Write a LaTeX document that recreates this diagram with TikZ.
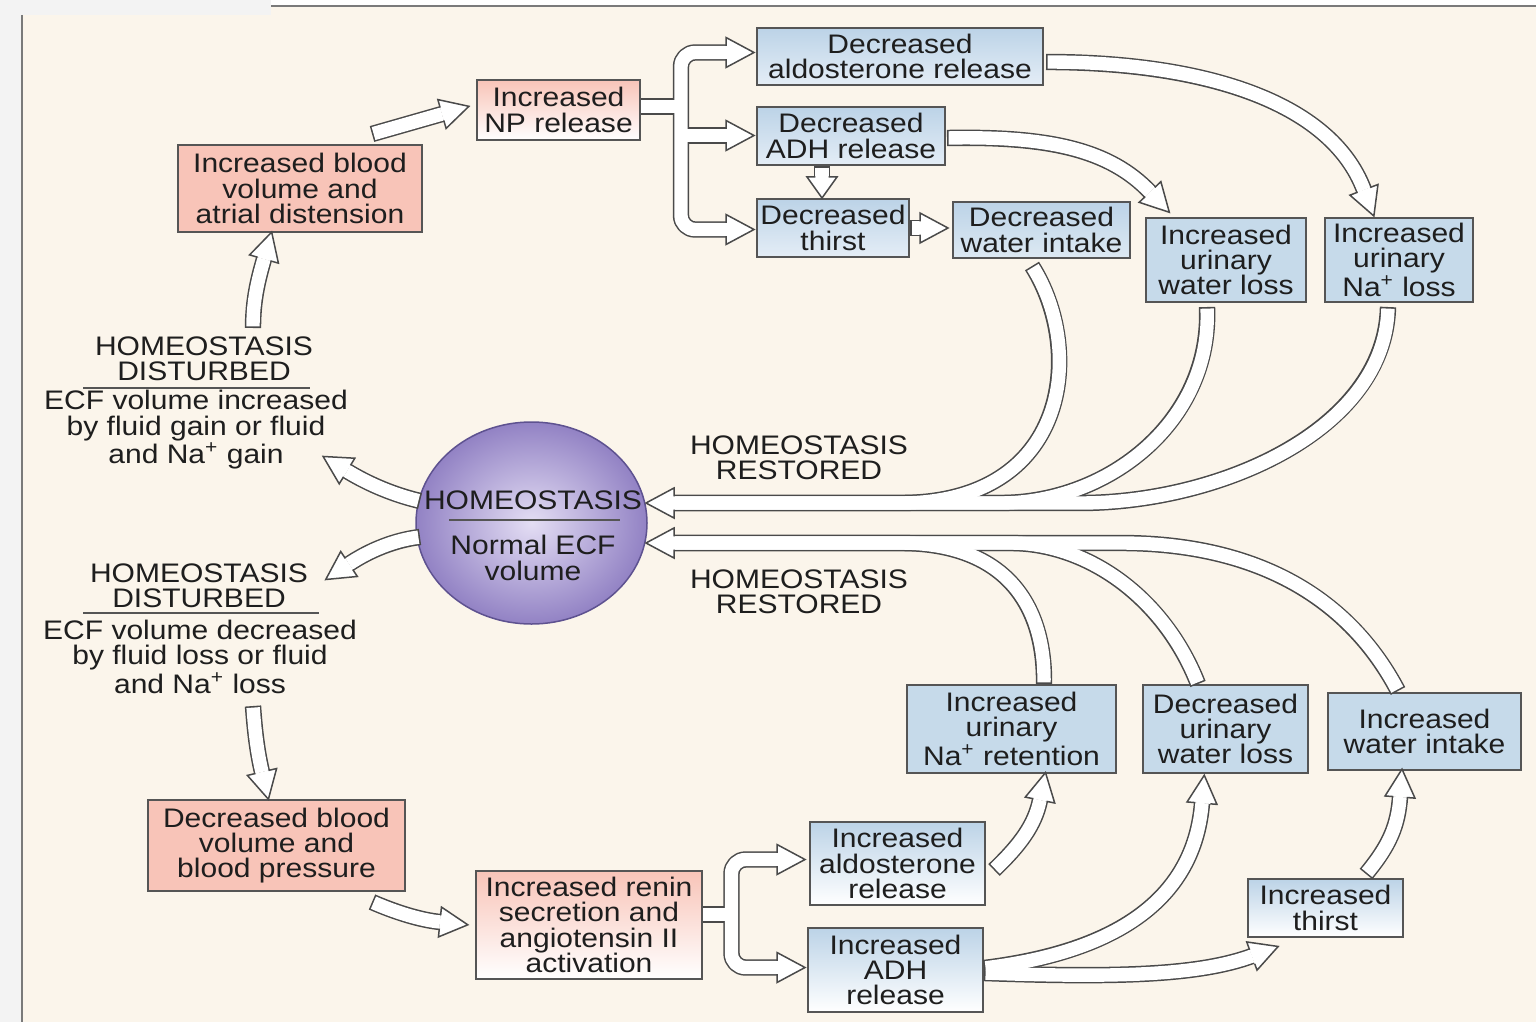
\documentclass[tikz,border=0pt]{standalone}
\usepackage{fontspec}
\setmainfont[FakeStretch=1.12]{Liberation Sans}
\usetikzlibrary{decorations.markings,shapes.geometric}
\definecolor{bgc}{HTML}{FBF5EB}
\definecolor{stripc}{HTML}{F3F3F3}
\definecolor{framec}{HTML}{7A7A7A}
\definecolor{arrc}{HTML}{4A4A4A}
\definecolor{boxc}{HTML}{555555}
\definecolor{pinkc}{HTML}{F8C4B8}
\definecolor{bluec}{HTML}{C6DAEA}
\definecolor{bluetop}{HTML}{BCD3E7}
\definecolor{bluebot}{HTML}{E4EDF6}
\definecolor{txtc}{HTML}{1E1E1E}
\definecolor{purpin}{HTML}{E4DEF4}
\definecolor{purpout}{HTML}{9282C4}
\definecolor{purpedge}{HTML}{5E5290}
\newcommand\fs{\fontsize{13.4}{12.6}\selectfont}
\newcommand\headshape[1]{%
  \fill[white] (0,-15) -- (#1,0) -- (0,15) -- cycle;
  \draw[arrc, line width=0.75pt, line join=miter, line cap=butt] (0,6.7) -- (0,15) -- (#1,0) -- (0,-15) -- (0,-6.7);}
\newcommand\fhead[4]{\begin{scope}[shift={(#1,#2)},rotate=#3]\headshape{#4}\end{scope}}
\tikzset{
  fo/.style={draw=arrc, line width=8.2pt, line cap=butt, line join=round},
  fi/.style={draw=white, line width=6.7pt, line cap=butt, line join=round, shorten <=0.8pt},
  fi0/.style={draw=white, line width=6.7pt, line cap=butt, line join=round},
  hd/.style={postaction={decorate, decoration={markings, mark=at position 0.9995 with {\headshape{#1}}}}},
  hd/.default=28,
  fat/.style={fo, postaction={fi}, hd=#1},
  fat/.default=28,
  bx/.style={draw=boxc, line width=0.75pt, inner sep=0pt, align=center, text=txtc, font=\fs},
  sz/.style 2 args={minimum width=#1*0.5pt, minimum height=#2*0.5pt},
  pk/.style={bx, fill=pinkc},
  pkg/.style={bx, top color=pinkc, bottom color=white},
  bl/.style={bx, fill=bluec},
  blg/.style={bx, top color=bluetop, bottom color=#1},
  blg/.default=white,
  lbl/.style={align=center, text=txtc, font=\fs, inner sep=0pt},
  rule/.style={draw=boxc, line width=0.6pt},
}
\begin{document}
\begin{tikzpicture}[x=0.5pt,y=-0.5pt]
\useasboundingbox (0,0) rectangle (1536,1022);
% background
\fill[white] (0,0) rectangle (1536,1022);
\fill[bgc] (22,6) rectangle (1536,1022);
\fill[stripc] (0,0) rectangle (271,15);
\fill[stripc] (0,15) rectangle (21,1022);
\draw[framec, line width=0.8pt] (271,6) -- (1536,6);
\draw[framec, line width=0.8pt] (22,15) -- (22,1022);

% boxes
\node[pk, sz={244}{87}] (incblood) at (300,188.5) {Increased blood\\volume and\\atrial distension};
\node[pkg, sz={163}{60}] (np) at (558.5,110) {Increased\\NP release};
\node[blg=bluebot, sz={286}{57}] (dald) at (900,56.5) {Decreased\\aldosterone release};
\node[blg=bluebot, sz={188}{58}] (dadh) at (851,136) {Decreased\\ADH release};
\node[blg=bluebot, sz={152}{58}] (dthirst) at (833,228) {Decreased\\thirst};
\node[blg=bluec!60!white, sz={177}{56}] (dwater) at (1041.5,230) {Decreased\\water intake};
\node[bl, sz={160}{84}] (iuwl) at (1226,260) {Increased\\urinary\\water loss};
\node[bl, sz={148}{84}] (iuna) at (1399,260) {Increased\\urinary\\Na\textsuperscript{+} loss};
\node[bl, sz={209}{88}] (nar) at (1011.5,729) {Increased\\urinary\\Na\textsuperscript{+} retention};
\node[bl, sz={165}{88}] (duwl) at (1225.5,729) {Decreased\\urinary\\water loss};
\node[bl, sz={193}{77}] (iwi) at (1424.5,731.5) {Increased\\water intake};
\node[pk, sz={257}{91}] (dblood) at (276.5,845.5) {Decreased blood\\volume and\\blood pressure};
\node[pkg, sz={226}{108}] (renin) at (589,925) {Increased renin\\secretion and\\angiotensin II\\activation};
\node[blg, sz={175}{83}] (iald) at (897.5,863.5) {Increased\\aldosterone\\release};
\node[blg, sz={175}{84}] (iadh) at (895.5,970) {Increased\\ADH\\release};
\node[blg, sz={155}{58}] (ithirst) at (1325.5,908) {Increased\\thirst};

% circle
\node[ellipse, draw=purpedge, line width=0.75pt, shading=radial, inner color=purpin, outer color=purpout, minimum width=231*0.5pt, minimum height=202*0.5pt, inner sep=0pt] (home) at (531.5,523) {};
\node[lbl] (homet) at (533,500) {HOMEOSTASIS};
\draw[rule] (449,520) -- (620,520);
\node[lbl] (homen) at (533,558) {Normal ECF\\volume};

% labels
\node[lbl] (dis1) at (204,359) {HOMEOSTASIS\\DISTURBED};
\draw[rule] (83,388) -- (310,388);
\node[lbl] (ecf1) at (196,430) {ECF volume increased\\by fluid gain or fluid\\and Na\textsuperscript{+} gain};
\node[lbl] (dis2) at (199,586) {HOMEOSTASIS\\DISTURBED};
\draw[rule] (83,613) -- (319,613);
\node[lbl] (ecf2) at (200,657) {ECF volume decreased\\by fluid loss or fluid\\and Na\textsuperscript{+} loss};
\node[lbl] (res1) at (799,458) {HOMEOSTASIS\\RESTORED};
\node[lbl] (res2) at (799,592) {HOMEOSTASIS\\RESTORED};

% single arrows
\draw[fat] (372,134) -- (442,114);
\draw[fat] (253,328) .. controls (253,300) and (258,280) .. (264,259);
\draw[fat] (420,501) .. controls (395,495) and (370,485) .. (347,471);
\draw[fat] (420,537) .. controls (395,540) and (370,550) .. (349,564);
\draw[fat] (253,706) .. controls (255,735) and (258,755) .. (262,772);
\draw[fat] (372,902) .. controls (395,912) and (420,920) .. (440,922);
\draw[fat=21] (822,166) -- (822,177);
\draw[fat] (910,228) -- (920,228);
\draw[fat] (1046,62) .. controls (1200,62) and (1330,100) .. (1364,190);
\draw[fo] (947,138) .. controls (1050,136) and (1110,150) .. (1150,192);
\draw[fi] (947,138) .. controls (1050,136) and (1110,150) .. (1150,192);
\fhead{1150}{192}{-46.4}{28}
\draw[fat] (994,870) .. controls (1020,845) and (1035,825) .. (1040,800);
\draw[fat] (1366,874) .. controls (1390,845) and (1398,825) .. (1400,797);

% NP branch
\draw[fo, rounded corners=7pt] (726,52.5) -- (681,52.5) -- (681,229.5) -- (726,229.5);
\draw[fo] (681,135.5) -- (726,135.5);
\draw[fo] (641,106.5) -- (681,106.5);
\draw[fi0, rounded corners=7pt] (726,52.5) -- (681,52.5) -- (681,229.5) -- (726,229.5);
\draw[fi0] (681,135.5) -- (726,135.5);
\draw[fi0] (641,106.5) -- (681,106.5);
\fhead{726}{52.5}{0}{28}
\fhead{726}{135.5}{0}{28}
\fhead{726}{229.5}{0}{28}

% renin branch
\draw[fo, rounded corners=7pt] (777,859.5) -- (731.5,859.5) -- (731.5,967.5) -- (777,967.5);
\draw[fo] (703,914.5) -- (731.5,914.5);
\draw[fi0, rounded corners=7pt] (777,859.5) -- (731.5,859.5) -- (731.5,967.5) -- (777,967.5);
\draw[fi0] (703,914.5) -- (731.5,914.5);
\fhead{777}{859.5}{0}{28}
\fhead{777}{967.5}{0}{28}

% ADH split
\draw[fo] (984,968) .. controls (1130,950) and (1195,890) .. (1202,803);
\draw[fo] (984,973) .. controls (1120,978) and (1200,975) .. (1252,956);
\draw[fi,hd] (984,968) .. controls (1130,950) and (1195,890) .. (1202,803);
\draw[fi,hd] (984,973) .. controls (1120,978) and (1200,975) .. (1252,956);

% restored (upper)
\draw[fo] (1032,266) .. controls (1085,350) and (1070,503) .. (900,503) -- (674,503);
\draw[fo] (1207,307) .. controls (1212,420) and (1110,503) .. (1000,503) -- (674,503);
\draw[fo] (1388,307) .. controls (1385,430) and (1220,503) .. (1080,503) -- (674,503);
\draw[fi] (1032,266) .. controls (1085,350) and (1070,503) .. (900,503) -- (674,503);
\draw[fi] (1207,307) .. controls (1212,420) and (1110,503) .. (1000,503) -- (674,503);
\draw[fi] (1388,307) .. controls (1385,430) and (1220,503) .. (1080,503) -- (674,503);
\fhead{674}{503}{180}{28}

% restored (lower)
\draw[fo] (1044,684) .. controls (1045,610) and (1010,543) .. (900,543) -- (674,543);
\draw[fo] (1198,684) .. controls (1165,600) and (1090,543) .. (1010,543) -- (674,543);
\draw[fo] (1398,691) .. controls (1350,600) and (1260,543) .. (1120,543) -- (674,543);
\draw[fi] (1044,684) .. controls (1045,610) and (1010,543) .. (900,543) -- (674,543);
\draw[fi] (1198,684) .. controls (1165,600) and (1090,543) .. (1010,543) -- (674,543);
\draw[fi] (1398,691) .. controls (1350,600) and (1260,543) .. (1120,543) -- (674,543);
\fhead{674}{543}{180}{28}
\end{tikzpicture}
\end{document}
